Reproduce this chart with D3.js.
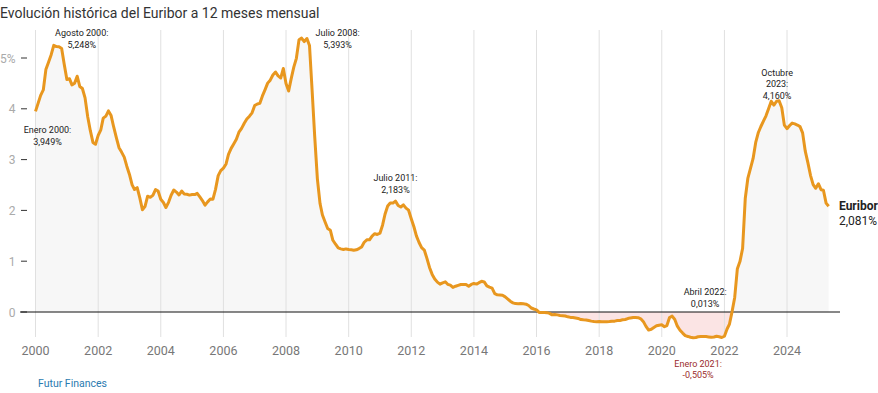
<!DOCTYPE html>
<html>
<head>
<meta charset="utf-8">
<script src="https://cdn.jsdelivr.net/npm/d3@7"></script>
<style>
  body { margin: 0; background: #fff; font-family: Roboto, "Open Sans", sans-serif; }
</style>
</head>
<body>
<div id="chart"></div>
<script>
// Euribor 12 meses, media mensual (%), enero 2000 - mayo 2025
var values = [
  3.949, 4.112, 4.265, 4.371, 4.772, 4.916, 5.060, 5.248, 5.224, 5.220, 5.186, 4.879,
  4.577, 4.590, 4.471, 4.504, 4.642, 4.438, 4.400, 4.215, 3.845, 3.574, 3.338, 3.302,
  3.478, 3.587, 3.816, 3.857, 3.958, 3.867, 3.642, 3.434, 3.234, 3.148, 3.049, 2.870,
  2.707, 2.503, 2.411, 2.447, 2.252, 2.014, 2.076, 2.279, 2.258, 2.296, 2.410, 2.381,
  2.218, 2.155, 2.058, 2.159, 2.298, 2.401, 2.361, 2.303, 2.380, 2.322, 2.317, 2.301,
  2.312, 2.311, 2.335, 2.265, 2.193, 2.103, 2.168, 2.223, 2.220, 2.414, 2.684, 2.783,
  2.833, 2.914, 3.105, 3.221, 3.308, 3.401, 3.539, 3.615, 3.715, 3.799, 3.855, 3.921,
  4.064, 4.094, 4.106, 4.253, 4.373, 4.505, 4.564, 4.666, 4.725, 4.647, 4.607, 4.793,
  4.498, 4.349, 4.590, 4.820, 4.994, 5.361, 5.393, 5.323, 5.384, 5.248, 4.350, 3.452,
  2.622, 2.135, 1.909, 1.771, 1.644, 1.610, 1.412, 1.334, 1.261, 1.243, 1.231, 1.242,
  1.232, 1.225, 1.215, 1.225, 1.249, 1.281, 1.373, 1.421, 1.420, 1.495, 1.541, 1.526,
  1.550, 1.714, 1.924, 2.086, 2.147, 2.144, 2.183, 2.097, 2.067, 2.110, 2.044, 2.004,
  1.837, 1.678, 1.499, 1.368, 1.266, 1.219, 1.061, 0.877, 0.740, 0.650, 0.588, 0.549,
  0.575, 0.594, 0.545, 0.528, 0.484, 0.507, 0.525, 0.542, 0.543, 0.541, 0.506, 0.543,
  0.562, 0.549, 0.577, 0.604, 0.592, 0.513, 0.488, 0.469, 0.362, 0.338, 0.335, 0.329,
  0.298, 0.255, 0.212, 0.180, 0.165, 0.163, 0.167, 0.161, 0.154, 0.128, 0.079, 0.059,
  0.042, -0.008, -0.012, -0.010, -0.013, -0.028, -0.056, -0.048, -0.057, -0.069, -0.074, -0.080,
  -0.095, -0.106, -0.110, -0.119, -0.127, -0.149, -0.154, -0.156, -0.168, -0.180, -0.189, -0.190,
  -0.189, -0.191, -0.191, -0.190, -0.188, -0.181, -0.180, -0.169, -0.166, -0.154, -0.147, -0.129,
  -0.116, -0.108, -0.109, -0.112, -0.134, -0.190, -0.283, -0.356, -0.339, -0.304, -0.272, -0.261,
  -0.253, -0.288, -0.266, -0.108, -0.081, -0.147, -0.279, -0.359, -0.415, -0.466, -0.481, -0.497,
  -0.505, -0.501, -0.487, -0.484, -0.481, -0.484, -0.491, -0.498, -0.492, -0.477, -0.487, -0.502,
  -0.477, -0.335, -0.237, 0.013, 0.287, 0.852, 0.992, 1.249, 2.233, 2.629, 2.828, 3.018,
  3.337, 3.534, 3.647, 3.757, 3.862, 4.007, 4.149, 4.073, 4.149, 4.160, 4.022, 3.679,
  3.609, 3.671, 3.718, 3.703, 3.680, 3.650, 3.526, 3.166, 2.936, 2.691, 2.506, 2.436,
  2.525, 2.407, 2.398, 2.143, 2.081
];
var xTicks = [2000, 2002, 2004, 2006, 2008, 2010, 2012, 2014, 2016, 2018, 2020, 2022, 2024];
var yTicks = [0, 1, 2, 3, 4, 5];
// i = month index into values; dx/dy = label offset from the point
var notes = [
  { i: 0,   lines: ["Enero 2000:", "3,949%"], dx: 12, dy: 22, neg: false },
  { i: 7,   lines: ["Agosto 2000:", "5,248%"], dx: 28, dy: -9, neg: false },
  { i: 102, lines: ["Julio 2008:", "5,393%"], dx: 36, dy: -2, neg: false },
  { i: 138, lines: ["Julio 2011:", "2,183%"], dx: 0, dy: -20, neg: false },
  { i: 267, lines: ["Abril 2022:", "0,013%"], dx: -27, dy: -16, neg: false },
  { i: 252, lines: ["Enero 2021:", "-0,505%"], dx: 5, dy: 29, neg: true },
  { i: 285, lines: ["Octubre", "2023:", "4,160%"], dx: -2, dy: -25, neg: false }
];

var data = values.map(function(v, i) {
  return { date: new Date(2000 + Math.floor(i / 12), i % 12, 1), value: v };
});

var width = 878, height = 393;
var svg = d3.select("#chart").append("svg")
  .attr("width", width).attr("height", height);

var x = d3.scaleTime()
  .domain([new Date(2000, 0, 1), new Date(2024, 0, 1)])
  .range([35.5, 787]);
var y = d3.scaleLinear().domain([0, 5]).range([312, 58]);

// area under the line, grey above zero and pink below
var areaPos = d3.area()
  .x(function(d) { return x(d.date); })
  .y0(y(0))
  .y1(function(d) { return y(Math.max(0, d.value)); });
var areaNeg = d3.area()
  .x(function(d) { return x(d.date); })
  .y0(y(0))
  .y1(function(d) { return y(Math.min(0, d.value)); });

svg.append("path").datum(data).attr("d", areaPos).attr("fill", "#f7f7f7");
svg.append("path").datum(data).attr("d", areaNeg).attr("fill", "#fbe4e4");

// vertical grid
svg.append("g").selectAll("line")
  .data(xTicks).enter().append("line")
  .attr("x1", function(d) { return x(new Date(d, 0, 1)); })
  .attr("x2", function(d) { return x(new Date(d, 0, 1)); })
  .attr("y1", 30).attr("y2", 337)
  .attr("stroke", "#e0e0e0").attr("stroke-width", 1);

// x labels
svg.append("g").selectAll("text")
  .data(xTicks).enter().append("text")
  .attr("x", function(d) { return x(new Date(d, 0, 1)); })
  .attr("y", 355)
  .attr("text-anchor", "middle")
  .attr("font-size", 12.5)
  .attr("fill", "#777")
  .text(function(d) { return d; });

// y ticks
var yg = svg.append("g");
yg.selectAll("line").data(yTicks).enter().append("line")
  .attr("x1", 21).attr("x2", 27)
  .attr("y1", function(d) { return y(d); })
  .attr("y2", function(d) { return y(d); })
  .attr("stroke", "#333");
yg.selectAll("text").data(yTicks).enter().append("text")
  .attr("x", 15.5).attr("y", function(d) { return y(d) + 4.5; })
  .attr("text-anchor", "end")
  .attr("font-size", 12)
  .attr("fill", "#aaa")
  .text(function(d) { return d === 5 ? "5%" : d; });

// zero line
svg.append("line")
  .attr("x1", 20).attr("x2", 840)
  .attr("y1", y(0)).attr("y2", y(0))
  .attr("stroke", "#111").attr("stroke-width", 1);

// Euribor line
var line = d3.line()
  .x(function(d) { return x(d.date); })
  .y(function(d) { return y(d.value); });
svg.append("path").datum(data)
  .attr("d", line)
  .attr("fill", "none")
  .attr("stroke", "#e8971f")
  .attr("stroke-width", 3)
  .attr("stroke-linejoin", "round");

// annotations
notes.forEach(function(n) {
  var d = data[n.i];
  var t = svg.append("text")
    .attr("text-anchor", "middle")
    .attr("font-size", 9)
    .attr("fill", n.neg ? "#9b2c2c" : "#222");
  n.lines.forEach(function(s, k) {
    t.append("tspan")
      .attr("x", x(d.date) + n.dx)
      .attr("y", y(d.value) + n.dy + k * 11.5)
      .text(s);
  });
});

// end label
var last = data[data.length - 1];
svg.append("text")
  .attr("x", 839).attr("y", 209.5)
  .attr("font-size", 12).attr("font-weight", "bold").attr("fill", "#222")
  .text("Euribor");
svg.append("text")
  .attr("x", 839).attr("y", 224.5)
  .attr("font-size", 12).attr("fill", "#222")
  .text(d3.format(".3f")(last.value).replace(".", ",") + "%");

// title and source
svg.append("text")
  .attr("x", 0).attr("y", 18)
  .attr("font-size", 14).attr("fill", "#333")
  .text("Evolución histórica del Euribor a 12 meses mensual");
svg.append("text")
  .attr("x", 38).attr("y", 387)
  .attr("font-size", 10.5).attr("fill", "#2b7bb0")
  .text("Futur Finances");
</script>
</body>
</html>
